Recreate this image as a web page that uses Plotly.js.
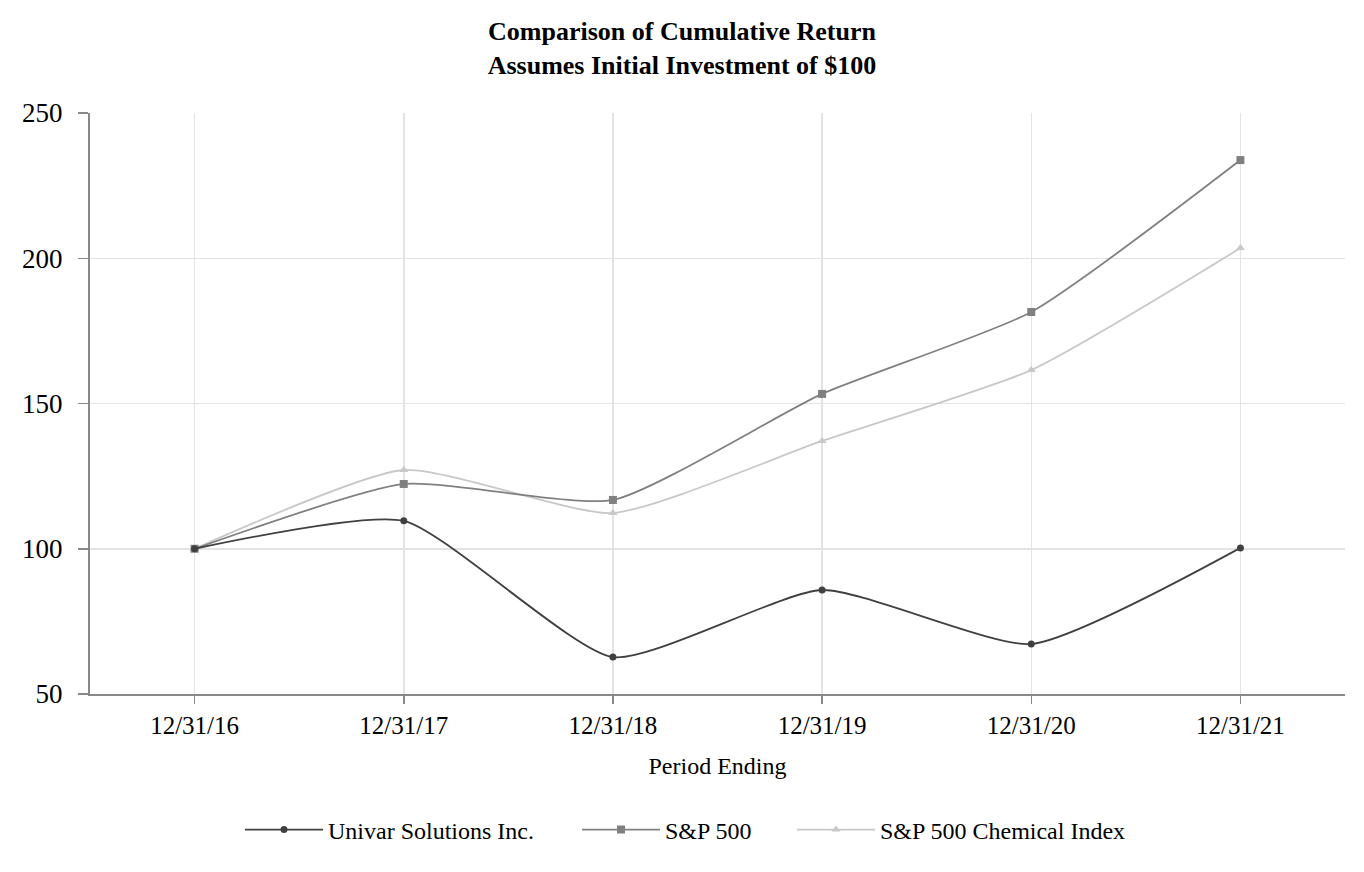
<!DOCTYPE html>
<html>
<head>
<meta charset="utf-8">
<script src="https://cdn.plot.ly/plotly-3.0.1.min.js"></script>
<style>html,body{margin:0;padding:0;background:#fff;}#chart{width:1364px;height:872px;}</style>
</head>
<body>
<div id="chart"></div>
<script>
const categories = ["12/31/16", "12/31/17", "12/31/18", "12/31/19", "12/31/20", "12/31/21"];
const univar = [100, 109.6, 62.7, 85.8, 67.2, 100.3];
const sp500 = [100, 122.3, 116.8, 153.3, 181.5, 233.8];
const chemical = [100, 127.1, 112.3, 137.1, 161.5, 203.5];
const seriesNames = ["Univar Solutions Inc.", "S&P 500", "S&P 500 Chemical Index"];
const yTicks = [50, 100, 150, 200, 250];

const font = "Liberation Serif, Times New Roman, serif";

function trace(name, y, color, symbol, size, legendId) {
  return {
    x: categories, y: y, name: name, type: "scatter", mode: "lines+markers",
    legend: legendId,
    line: {color: color, width: 1.8, shape: "spline", smoothing: 0.55},
    marker: {color: color, symbol: symbol, size: size}
  };
}

const data = [
  trace(seriesNames[2], chemical, "#c8c8c8", "triangle-up", 8, "legend3"),
  trace(seriesNames[1], sp500, "#808080", "square", 8, "legend2"),
  trace(seriesNames[0], univar, "#404040", "circle", 7, "legend")
];

function leg(xpx) {
  return {
    orientation: "h", xref: "container", yref: "container",
    x: xpx / 1364, xanchor: "left", y: 1 - 830 / 872, yanchor: "middle",
    font: {family: font, size: 24, color: "#000"}, itemwidth: 78,
    bgcolor: "rgba(0,0,0,0)"
  };
}

const layout = {
  width: 1364, height: 872,
  margin: {l: 90, r: 19, t: 113, b: 178},
  paper_bgcolor: "#fff", plot_bgcolor: "#fff",
  font: {family: font, size: 24, color: "#000"},
  title: {
    text: "<b>Comparison of Cumulative Return<br>Assumes Initial Investment of $100</b>",
    font: {family: font, size: 26, color: "#000"},
    x: 0.5, xanchor: "center", y: 1 - 40 / 872, yanchor: "middle", yref: "container"
  },
  xaxis: {
    type: "category", range: [-0.5, 5.5],
    showline: true, linecolor: "#888", linewidth: 2,
    showgrid: true, gridcolor: "#e3e3e3", gridwidth: 1.5,
    ticks: "outside", ticklen: 8, tickcolor: "#888", tickwidth: 1.5,
    tickfont: {family: font, size: 25},
    title: {text: "Period Ending", font: {family: font, size: 24}, standoff: 19},
    zeroline: false, fixedrange: true
  },
  yaxis: {
    range: [50, 250], tickvals: yTicks,
    showline: true, linecolor: "#888", linewidth: 2,
    showgrid: true, gridcolor: "#e3e3e3", gridwidth: 1.5,
    ticks: "outside", ticklen: 10, tickcolor: "#888", tickwidth: 1.5,
    tickfont: {family: font, size: 27}, ticklabelstandoff: 10,
    zeroline: false, fixedrange: true
  },
  legend: leg(240),
  legend2: leg(577),
  legend3: leg(792),
  showlegend: true
};

Plotly.newPlot("chart", data, layout, {displayModeBar: false, staticPlot: true});
</script>
</body>
</html>
